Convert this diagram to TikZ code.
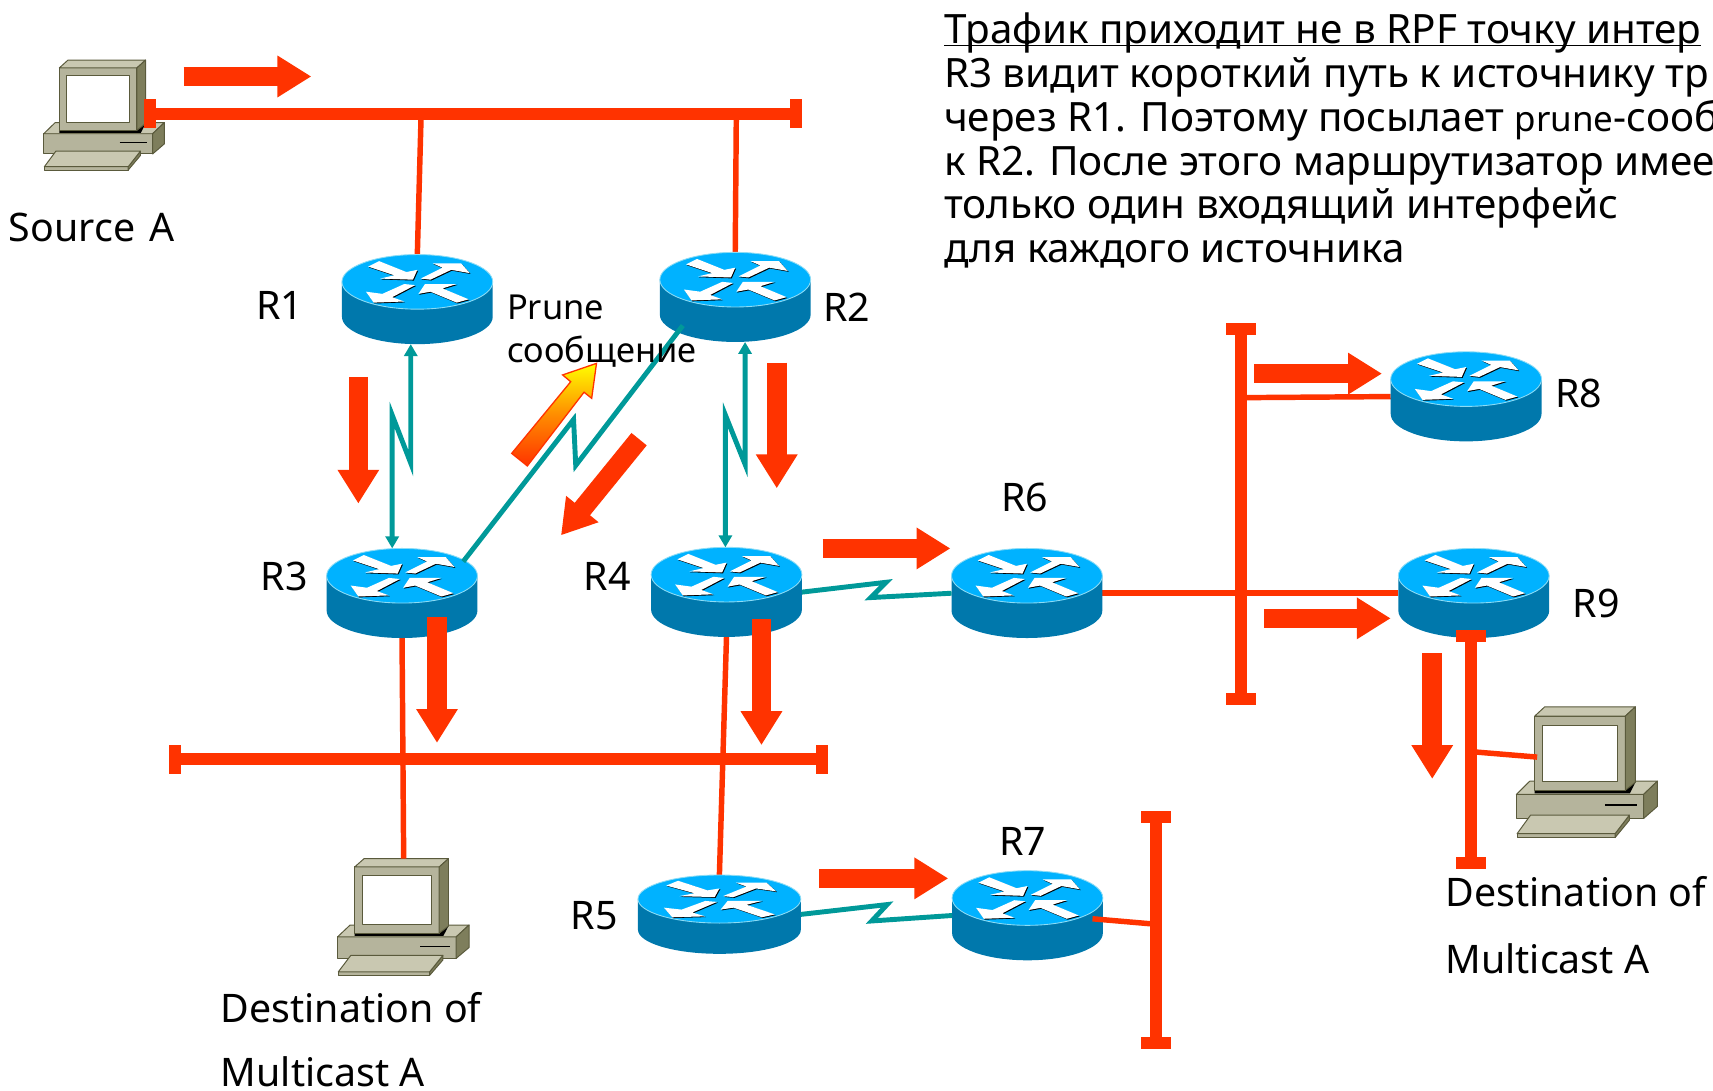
\documentclass[tikz,border=0pt]{standalone}
\usepackage{fontspec}
\setmainfont{Noto Sans}
\usepackage{tikz}
\usetikzlibrary{positioning}
\usetikzlibrary{calc}
\usetikzlibrary{arrows.meta}
\definecolor{flowred}{RGB}{255,51,0}
\definecolor{linkteal}{RGB}{0,153,153}
\definecolor{routertop}{RGB}{0,178,255}
\definecolor{routerside}{RGB}{0,120,172}
\definecolor{routerrim}{RGB}{140,220,245}
\definecolor{pclight}{RGB}{201,200,177}
\definecolor{pcfront}{RGB}{181,180,156}
\definecolor{pcdark}{RGB}{126,126,92}
\definecolor{pcline}{RGB}{90,90,60}
\tikzset{
	routerbox/.style={inner sep=0,outer sep=0,minimum width=138pt,minimum height=82pt},
	pcbox/.style={inner sep=0,outer sep=0,anchor=north west},
	buscaph/.style={fill=flowred,inner sep=0,outer sep=0,minimum width=11pt,minimum height=27pt},
	buscapv/.style={fill=flowred,inner sep=0,outer sep=0,minimum width=27pt,minimum height=11pt},
	busbar/.style={draw=flowred,line width=11pt},
	redlink/.style={draw=flowred,line width=5pt},
	teallink/.style={draw=linkteal,line width=4.5pt},
	tealarrow/.style={teallink,{Triangle[length=11pt,width=12pt]}-{Triangle[length=11pt,width=12pt]}},
	flow/.style={draw=flowred,line width=18pt,-{Triangle[length=31pt,width=36pt]},flowred},
	rlabel/.style={inner sep=0,font=\fontsize{36}{40}\selectfont},
	textlabel/.style={inner sep=0,anchor=west,font=\fontsize{36}{40}\selectfont},
	routerpic/.pic={
		\fill[routerside] (-69,-16) -- (-69,16) arc[start angle=180,end angle=0,x radius=69,y radius=25] -- (69,-16) -- cycle;
		\draw[routerrim,line width=0.8pt,fill=routertop] (0,-16) ellipse [x radius=69,y radius=25];
		\fill[routertop] (0,-16) ellipse [x radius=68,y radius=23.5];
		\foreach \dx/\dy/\col in {0.8/0.8/black,0/0/white} {
			\fill[\col,shift={(\dx,\dy-16)}] (-45,-14) -- (-35,-19) -- (-10,-9) -- (0,-11) -- (-4,-2) -- (-34,-3) -- (-21,-6) -- cycle;
			\fill[\col,shift={(\dx,\dy-16)}] (14,-17) -- (40,-17) -- (48,-8) -- (31,-11) -- (12,-2) -- (3,-3) -- (23,-13) -- cycle;
			\fill[\col,shift={(\dx,\dy-16)}] (-47,9) -- (-32,11) -- (-12,2) -- (-2,3) -- (-23,14) -- (-12,18) -- (-40,19) -- cycle;
			\fill[\col,shift={(\dx,\dy-16)}] (1,11) -- (7,2) -- (36,2) -- (23,6) -- (47,16) -- (36,19) -- (12,9) -- cycle;
		}
	},
	pcpic/.pic={
		\begin{scope}[draw=pcline,line width=0.9pt,line join=round]
		\filldraw[fill=pcfront] (0,68.8) rectangle (98.7,87.7);
		\filldraw[fill=pclight] (0,68.8) -- (10.4,58.4) -- (109.4,58.4) -- (98.7,68.8) -- cycle;
		\filldraw[fill=pcdark] (109.4,58.4) -- (109.4,78.2) -- (98.7,87.7) -- (98.7,68.8) -- cycle;
		\fill[black] (14.2,65.6) -- (84.5,65.6) -- (92.3,59.3) -- (88,68) -- (14.2,68) -- cycle;
		\filldraw[fill=pcfront] (14.2,7.3) rectangle (84.5,65.6);
		\filldraw[fill=white] (20.5,14.5) rectangle (78.2,58.3);
		\filldraw[fill=pclight] (14.2,7.3) -- (22,0) -- (92.3,0) -- (84.5,7.3) -- cycle;
		\filldraw[fill=pcdark] (84.5,7.3) -- (92.3,0) -- (92.3,59.3) -- (84.5,65.6) -- cycle;
		\draw[black,line width=1.2pt] (68.7,77.2) -- (93.6,77.2);
		\filldraw[fill=pcfront] (0.6,99.6) -- (76.6,99.6) -- (76.6,102.7) -- (0.6,102.7) -- cycle;
		\filldraw[fill=pcdark] (76.6,99.6) -- (87.6,85.1) -- (87.6,89.2) -- (76.6,102.7) -- cycle;
		\filldraw[fill=pclight] (0.6,99.6) -- (11,85.1) -- (87.6,85.1) -- (76.6,99.6) -- cycle;
		\end{scope}
	}
}
\begin{document}
\begin{tikzpicture}[line cap=butt,line join=miter,x=1pt,y=-1pt]
	\useasboundingbox (0,0) rectangle (1568,998);
	% hosts
	\node[pcbox,minimum width=111pt,minimum height=101pt] (src) at (40,55) {};
	\node[pcbox,minimum width=121pt,minimum height=107pt] (dest1) at (309,786) {};
	\node[pcbox,minimum width=130pt,minimum height=120pt] (dest2) at (1388,647) {};
	\pic[xscale=1.01,yscale=0.98] at (src.north west) {pcpic};
	\pic[xscale=1.1,yscale=1.04] at (dest1.north west) {pcpic};
	\pic[xscale=1.18,yscale=1.165] at (dest2.north west) {pcpic};
	% routers
	\foreach \name/\px/\py in {R1/382/274,R2/673/272,R3/368/543,R4/665/542,R6/940/543,R7/940.5/838,R8/1342/363,R9/1349/543} {
		\node[routerbox] (\name) at (\px,\py) {};
	}
	\node[routerbox,minimum width=149pt,minimum height=72pt] (R5) at (658.5,837) {};
	\coordinate (tap1a) at (385.5,104);
	\coordinate (tap1b) at (674,104);
	\coordinate (tap2) at (1136,364);
	\coordinate (tap4) at (1058,846);
	\coordinate (tap5) at (1346.5,688);
	\coordinate (portR7) at (1000,841);
	\coordinate (portdest) at (1407,693);
	% red links
	\draw[redlink] (tap1a) -- (R1.north);
	\draw[redlink] (tap1b) -- (R2.north);
	\draw[redlink] (R3.south) -- (dest1.north);
	\draw[redlink] (R4.south) -- (R5.north);
	\draw[redlink] (R6.east) -- (R9.west);
	\draw[redlink] (tap2) -- (R8.west);
	\draw[redlink] (tap5) -- (portdest);
	% routers on top of the links
	\foreach \name in {R1,R2,R3,R4,R6,R7,R8,R9} {
		\pic at (\name) {routerpic};
	}
	\pic[xscale=1.08,yscale=0.88] at (R5) {routerpic};
	\draw[redlink] (portR7) -- (tap4);
	% buses
	\node[buscaph] (bus1a) at (137,104) {};
	\node[buscaph] (bus1b) at (729,104) {};
	\node[buscaph] (bus3a) at (160,695) {};
	\node[buscaph] (bus3b) at (752,695) {};
	\node[buscapv] (bus2a) at (1136,301) {};
	\node[buscapv] (bus2b) at (1136,640) {};
	\node[buscapv] (bus4a) at (1058,748) {};
	\node[buscapv] (bus4b) at (1058,955) {};
	\node[buscapv] (bus5a) at (1346.5,582.5) {};
	\node[buscapv] (bus5b) at (1346.5,790) {};
	\draw[busbar] (bus1a) -- (bus1b);
	\draw[busbar] (bus3a) -- (bus3b);
	\draw[busbar] (bus2a) -- (bus2b);
	\draw[busbar] (bus4a) -- (bus4b);
	\draw[busbar] (bus5a) -- (bus5b);
	% serial links
	\draw[tealarrow] ([xshift=-6pt]R1.south) -- (376,424) -- (359,380) -- ([xshift=-9pt]R3.north);
	\draw[tealarrow] ([xshift=9pt]R2.south) -- (682,425) -- (664,380) -- ([xshift=-1pt]R4.north);
	\draw[teallink] ([xshift=56pt,yshift=29pt]R3.center) -- (525,384) -- (527,426) -- ([xshift=-48pt,yshift=-26pt]R2.center);
	\draw[teallink] (R4.east) -- (811,533) -- (797,547) -- (R6.west);
	\draw[teallink] (R5.east) -- (812,828) -- (798,843) -- (R7.west);
	% traffic arrows
	\foreach \xa/\ya/\xb/\yb in {168/70/285/70,328/345/328/461,711/332/711/447,585/402/513.5/490,753/502/870/502,400/565/400/680,697/567/697/682,750/804/868/804,1148/342/1265/342,1157/566/1273/566,1311/598/1311/713} {
		\draw[flow] (\xa,\ya) -- (\xb,\yb);
	}
	% prune arrow
	\shade[draw=flowred,line width=1.2pt,bottom color=flowred,top color=yellow,middle color=orange!90!yellow] (468.4,415) -- (482.7,426.5) -- (534.6,359) -- (541.6,364.6) -- (546,332.6) -- (515,343.2) -- (522.4,349.4) -- cycle;
	% labels
	\foreach \name/\px/\py in {R1/256/280,R2/775/281,R3/260/528,R4/556/528,R5/544/838,R6/938/455,R7/936/770,R8/1445/360,R9/1461/552} {
		\node[rlabel] (lab\name) at (\px,\py) {\name};
	}
	\node[textlabel] (srclab) at (8,208) {Source\hspace{4pt} A};
	\node[textlabel] (dest1lab) at (202,922) {Destination of};
	\node[textlabel] (dest1lab2) at (202,981) {Multicast A};
	\node[textlabel] (dest2lab) at (1323,816) {Destination of};
	\node[textlabel] (dest2lab2) at (1323,878) {Multicast A};
	\node[textlabel,font=\fontsize{31.5}{40}\selectfont] (prunelab) at (464,281) {Prune};
	\node[textlabel,font=\fontsize{31.5}{40}\selectfont] (prunelab2) at (464,322) {сообщение};
	\node[inner sep=0,anchor=north west,align=left,font=\fontsize{37}{40}\selectfont] (note) at (864,12) {\strut\underline{\smash{Трафик приходит не в RPF точку интер}}\\R3 видит короткий путь к источнику тр\\через R1. Поэтому посылает {\fontsize{32}{40}\selectfont prune}-сооб\\к R2. После этого маршрутизатор имее\\только один входящий интерфейс\\для каждого источника};
\end{tikzpicture}
\end{document}
